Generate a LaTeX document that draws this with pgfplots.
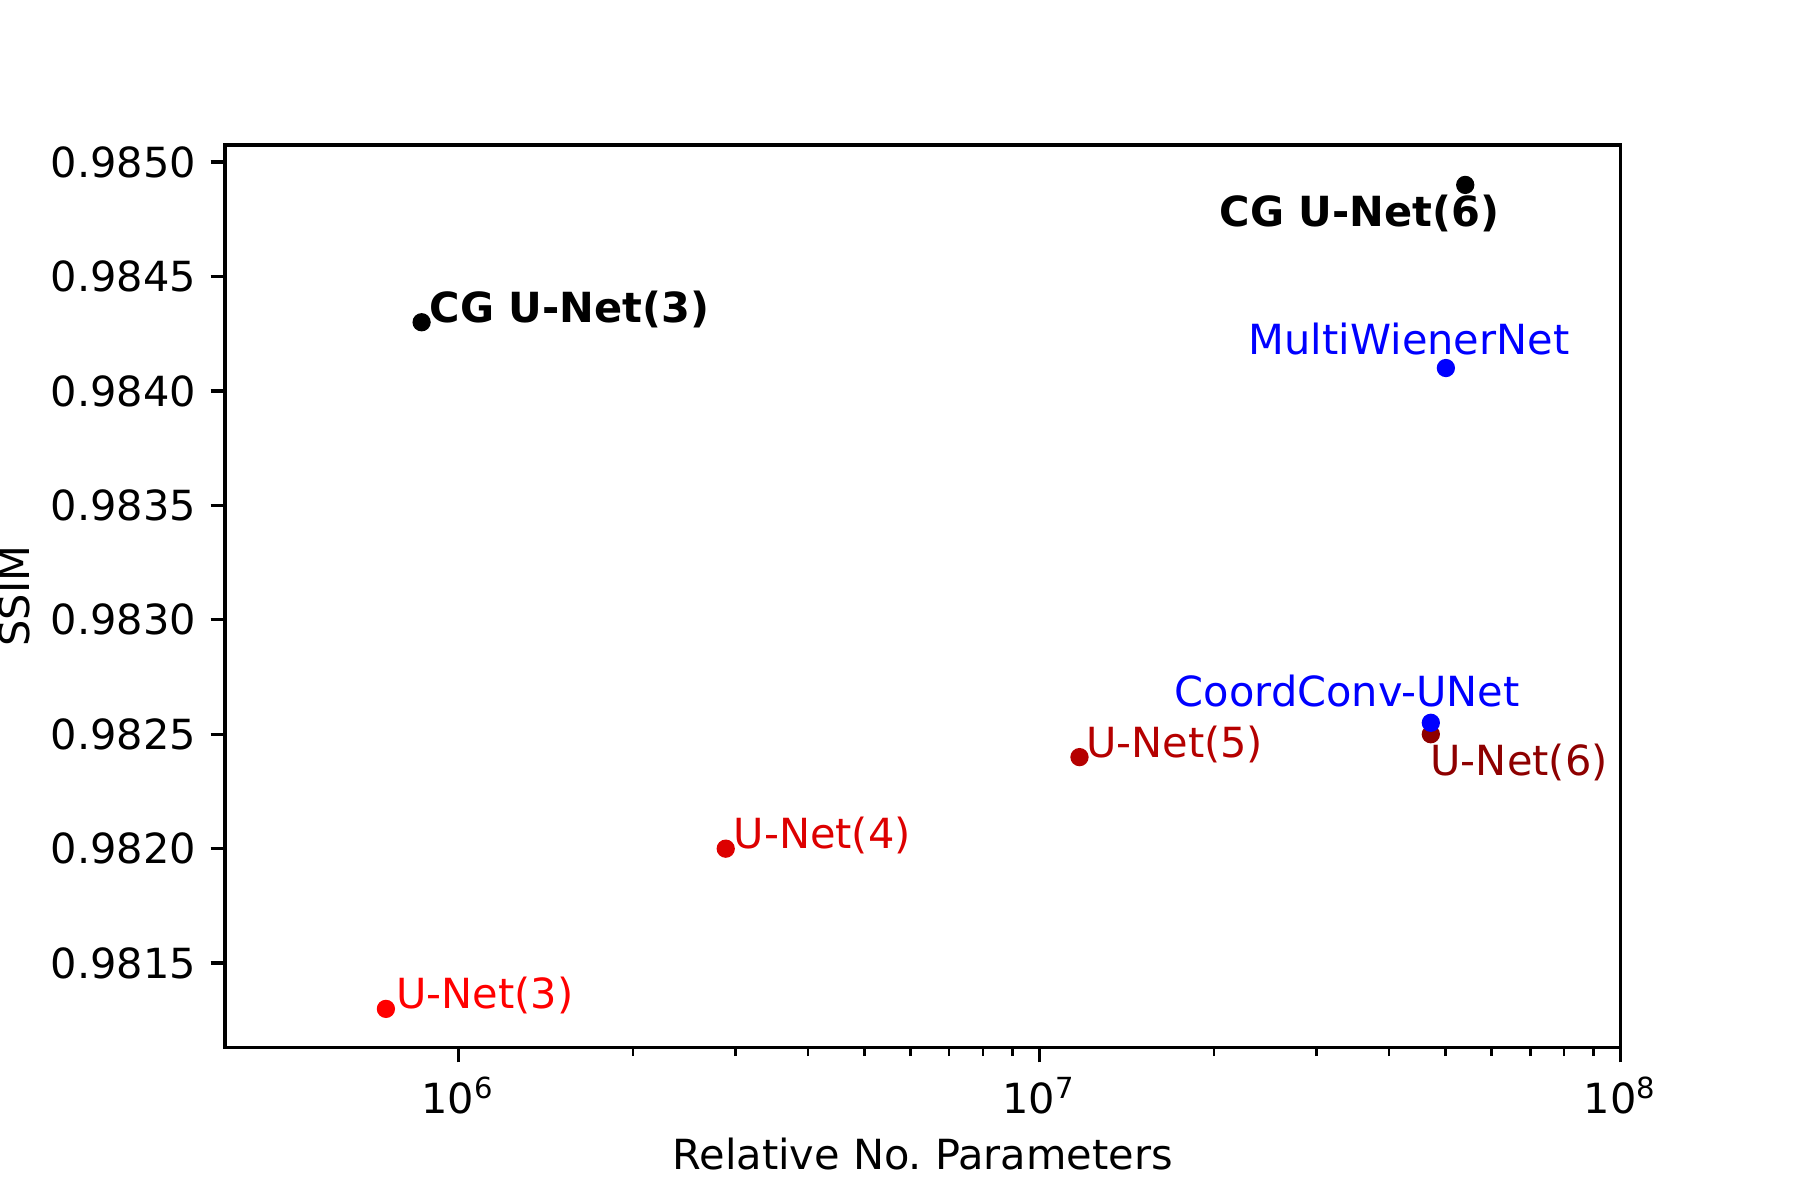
\documentclass[border=0pt]{standalone}
\usepackage{fontspec}
\setmainfont{DejaVu Sans}
\usepackage{pgfplots}
\pgfplotsset{compat=1.18}

\definecolor{unet3}{HTML}{FF0000}
\definecolor{unet4}{HTML}{DD0000}
\definecolor{unet5}{HTML}{B50000}
\definecolor{unet6}{HTML}{8E0000}

\begin{document}
\begin{tikzpicture}
\path[use as bounding box] (-54.2pt,-36.6pt) rectangle (379.4pt,252.4pt);
\begin{axis}[
  at={(0,0)}, anchor=south west,
  scale only axis,
  width=336.1pt, height=217.5pt,
  xmode=log,
  xmin=3.97e5, xmax=1e8,
  ymin=0.98113, ymax=0.985075,
  xtick={1e6,1e7,1e8},
  xticklabels={10\textsuperscript{6},10\textsuperscript{7},10\textsuperscript{8}},
  ytick={0.9815,0.982,0.9825,0.983,0.9835,0.984,0.9845,0.985},
  yticklabel style={/pgf/number format/.cd, fixed, fixed zerofill, precision=4, assume math mode=true},
  scaled y ticks=false,
  tick align=outside,
  xtick pos=bottom, ytick pos=left,
  major tick length=3.5pt, minor tick length=2pt,
  every tick/.style={black, line width=0.8pt},
  minor tick style={line width=0.6pt},
  axis line style={line width=0.8pt},
  xlabel={Relative No.\ Parameters},
  ylabel={SSIM},
  every axis y label/.style={at={(axis description cs:0,0.5)}, rotate=90, yshift=50.8pt, anchor=center},
  every axis x label/.style={at={(axis description cs:0.5,0)}, yshift=-25.5pt, anchor=center},
  clip=false,
]
% U-Net family
\addplot[only marks, mark=*, mark size=2pt, color=unet3] coordinates {(7.51e5,0.9813)};
\addplot[only marks, mark=*, mark size=2pt, color=unet4] coordinates {(2.887e6,0.9820)};
\addplot[only marks, mark=*, mark size=2pt, color=unet5] coordinates {(1.173e7,0.9824)};
\addplot[only marks, mark=*, mark size=2pt, color=unet6] coordinates {(4.72e7,0.9825)};
% other methods
\addplot[only marks, mark=*, mark size=2pt, color=blue] coordinates {(4.72e7,0.98255)};
\addplot[only marks, mark=*, mark size=2pt, color=blue] coordinates {(5.01e7,0.9841)};
% ours
\addplot[only marks, mark=*, mark size=2pt, color=black] coordinates {(8.65e5,0.9843)};
\addplot[only marks, mark=*, mark size=2pt, color=black] coordinates {(5.41e7,0.9849)};

\node[anchor=base west, inner sep=0pt, text=unet3] at (axis cs:7.8e5,0.9813) {U-Net(3)};
\node[anchor=base west, inner sep=0pt, text=unet4] at (axis cs:2.97e6,0.9820) {U-Net(4)};
\node[anchor=base west, inner sep=0pt, text=unet5] at (axis cs:1.2e7,0.9824) {U-Net(5)};
\node[anchor=base west, inner sep=0pt, text=unet6] at (axis cs:4.7e7,0.98232) {U-Net(6)};
\node[anchor=base, inner sep=0pt, text=blue] at (axis cs:3.39e7,0.98262) {CoordConv-UNet};
\node[anchor=base, inner sep=0pt, text=blue] at (axis cs:4.33e7,0.98416) {MultiWienerNet};
\node[anchor=base west, inner sep=0pt] at (axis cs:8.9e5,0.98430) {\bfseries CG U-Net(3)};
\node[anchor=base, inner sep=0pt] at (axis cs:3.56e7,0.98472) {\bfseries CG U-Net(6)};
\end{axis}
\end{tikzpicture}
\end{document}
